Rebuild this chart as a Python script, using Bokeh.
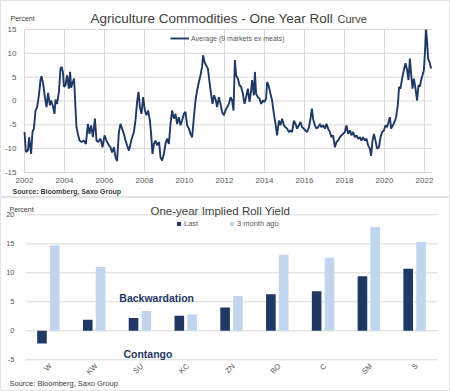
import math
from bokeh.plotting import figure
from bokeh.models import Legend, LegendItem, Range1d, ColumnDataSource
from bokeh.core.properties import value
from bokeh.layouts import column
from bokeh.transform import dodge
from bokeh.embed import file_html
from bokeh.resources import INLINE

# ---------------- data: top chart (one year roll curve, %) ----------------
years = [2002.00, 2002.07, 2002.17, 2002.23, 2002.33, 2002.40, 2002.47, 2002.55, 2002.63, 2002.72,
         2002.80, 2002.85, 2002.93, 2003.02, 2003.10, 2003.18, 2003.27, 2003.33, 2003.42, 2003.50,
         2003.55, 2003.63, 2003.72, 2003.80, 2003.85, 2003.92, 2003.97, 2004.05, 2004.13, 2004.22,
         2004.28, 2004.33, 2004.42, 2004.48, 2004.53, 2004.60, 2004.67, 2004.75, 2004.85, 2004.97,
         2005.07, 2005.17, 2005.25, 2005.33, 2005.42, 2005.52, 2005.60, 2005.68, 2005.80, 2005.90,
         2006.00, 2006.10, 2006.22, 2006.30, 2006.38, 2006.47, 2006.55, 2006.63, 2006.72, 2006.80,
         2006.88, 2006.97, 2007.05, 2007.13, 2007.22, 2007.30, 2007.38, 2007.47, 2007.55, 2007.63,
         2007.70, 2007.77, 2007.85, 2007.93, 2008.02, 2008.10, 2008.18, 2008.27, 2008.33, 2008.40,
         2008.47, 2008.55, 2008.63, 2008.73, 2008.80, 2008.88, 2008.97, 2009.05, 2009.13, 2009.22,
         2009.30, 2009.38, 2009.47, 2009.55, 2009.63, 2009.72, 2009.80, 2009.88, 2009.97, 2010.05,
         2010.13, 2010.22, 2010.30, 2010.38, 2010.47, 2010.55, 2010.63, 2010.72, 2010.80, 2010.88,
         2010.93, 2011.00, 2011.08, 2011.17, 2011.25, 2011.33, 2011.40, 2011.48, 2011.57, 2011.63,
         2011.72, 2011.80, 2011.88, 2011.97, 2012.05, 2012.13, 2012.22, 2012.30, 2012.38, 2012.45,
         2012.52, 2012.58, 2012.67, 2012.75, 2012.83, 2012.92, 2013.00, 2013.08, 2013.17, 2013.25,
         2013.33, 2013.38, 2013.47, 2013.52, 2013.58, 2013.67, 2013.75, 2013.83, 2013.92, 2014.00,
         2014.08, 2014.13, 2014.22, 2014.30, 2014.38, 2014.47, 2014.55, 2014.63, 2014.72, 2014.80,
         2014.88, 2014.97, 2015.05, 2015.13, 2015.22, 2015.30, 2015.38, 2015.47, 2015.55, 2015.63,
         2015.72, 2015.80, 2015.88, 2015.97, 2016.05, 2016.13, 2016.22, 2016.30, 2016.37, 2016.43,
         2016.52, 2016.60, 2016.68, 2016.77, 2016.85, 2016.93, 2017.02, 2017.10, 2017.18, 2017.27,
         2017.35, 2017.43, 2017.52, 2017.60, 2017.68, 2017.77, 2017.85, 2017.93, 2018.02, 2018.10,
         2018.18, 2018.27, 2018.35, 2018.43, 2018.52, 2018.60, 2018.68, 2018.77, 2018.85, 2018.93,
         2019.02, 2019.10, 2019.18, 2019.27, 2019.33, 2019.40, 2019.47, 2019.55, 2019.63, 2019.72,
         2019.80, 2019.88, 2019.97, 2020.05, 2020.13, 2020.22, 2020.27, 2020.33, 2020.42, 2020.50,
         2020.58, 2020.67, 2020.73, 2020.80, 2020.88, 2020.97, 2021.05, 2021.13, 2021.20, 2021.27,
         2021.33, 2021.40, 2021.47, 2021.55, 2021.63, 2021.70, 2021.77, 2021.83, 2021.90, 2021.97,
         2022.03, 2022.08, 2022.13, 2022.18, 2022.25, 2022.33]
avg_roll = [-6.5, -10.7, -10.4, -7.6, -11.1, -6.5, -5.8, -2.0, -1.3, 1.2,
            4.4, 5.2, 3.7, 0.8, -1.3, 1.7, -0.9, 0.1, -1.1, -2.7,
            0.3, -0.6, 1.9, 6.8, 7.2, 6.1, 3.0, 3.3, 5.4, 2.6,
            6.1, 2.8, 4.0, 4.7, 0.1, -5.5, -6.9, -8.3, -8.6, -8.3,
            -9.0, -4.8, -6.9, -5.1, -7.6, -3.7, -8.3, -8.6, -7.9, -9.7,
            -7.2, -8.3, -9.3, -9.7, -10.8, -9.7, -11.8, -12.6, -6.5, -4.8,
            -5.8, -6.9, -8.3, -9.3, -10.4, -9.0, -7.6, -6.5, -4.1, -0.2,
            1.9, -1.3, -2.7, 0.8, -2.0, -3.0, -2.0, -4.1, -6.9, -11.1,
            -9.0, -8.3, -9.3, -8.6, -11.8, -12.5, -11.1, -9.0, -7.9, -9.0,
            -4.8, -2.0, -3.7, -2.7, -4.8, -3.4, -5.1, -4.1, -2.7, -2.3,
            -5.1, -5.8, -6.9, -7.6, -3.4, 0.1, 2.2, 4.0, 5.4, 7.2,
            9.6, 8.2, 7.5, 6.8, 4.0, 1.5, -0.6, 1.2, 0.1, -1.3,
            0.8, -0.6, -2.3, -3.0, -2.0, -1.3, -0.6, 0.8, 0.1, -2.0,
            8.6, 5.4, 4.7, 3.3, 3.0, 1.5, -0.6, 0.8, 2.6, -0.2,
            2.2, 4.4, 1.2, 6.1, 1.5, 0.8, 0.5, -0.6, 0.1, -0.2,
            0.5, 4.0, 3.0, 1.5, 0.1, -2.7, -4.8, -7.2, -4.1, -5.1,
            -3.7, -5.1, -5.5, -5.8, -6.5, -6.2, -6.5, -4.1, -4.8, -5.8,
            -5.1, -4.4, -5.5, -5.8, -6.2, -6.5, -5.5, -3.7, -1.6, -3.7,
            -5.1, -5.8, -5.5, -4.8, -5.5, -5.1, -5.8, -4.8, -5.8, -6.5,
            -7.6, -7.2, -9.7, -8.6, -8.3, -7.6, -7.2, -6.9, -6.5, -5.1,
            -6.9, -6.2, -7.2, -6.5, -7.6, -7.2, -7.9, -7.6, -8.3, -7.6,
            -8.3, -7.9, -9.3, -10.0, -11.5, -8.3, -6.9, -8.3, -10.0, -9.7,
            -7.6, -6.5, -6.2, -5.1, -5.5, -4.1, -3.4, -5.8, -5.1, -4.4,
            -3.4, -0.6, 3.0, 2.6, 4.7, 6.5, 7.9, 6.5, 4.4, 8.9,
            5.8, 2.6, 4.7, 2.6, 0.1, 3.3, 3.0, 4.4, 5.4, 6.5,
            10.7, 15.0, 12.4, 8.9, 8.2, 6.8]
year_ticks = [2002, 2004, 2006, 2008, 2010, 2012, 2014, 2016, 2018, 2020, 2022]
top_pct_ticks = [-15, -10, -5, 0, 5, 10, 15]
top_x_limits = [2002, 2022.4]

# ---------------- data: bottom chart (implied roll yield, %) ----------------
markets = ["W", "KW", "SU", "KC", "ZN", "BO", "C", "SM", "S"]
last = [-2.2, 1.9, 2.2, 2.6, 4.0, 6.3, 6.8, 9.4, 10.7]
three_month_ago = [14.7, 11.0, 3.4, 2.8, 6.0, 13.1, 12.6, 17.9, 15.3]
bottom_pct_ticks = [-5, 0, 5, 10, 15, 20]

FONT = value("Liberation Sans")
NAVY = "#1f3864"
LIGHT = "#c2d5ee"
GRID = "#d9d9d9"
TICK = "#595959"
DARK = "#404040"
PANEL = "#e3e3e3"

# ---------------- top figure (frame spans whole canvas) ----------------
p1 = figure(width=450, height=197, x_range=Range1d(2000.8, 2023.3),
            y_range=Range1d(-20.245, 21.084), x_axis_type=None, y_axis_type=None,
            output_backend="svg", toolbar_location=None,
            min_border=0, min_border_left=0, min_border_right=0,
            min_border_top=0, min_border_bottom=0)
p1.grid.visible = False
p1.outline_line_color = PANEL
p1.background_fill_color = "white"

lo, hi = top_pct_ticks[0], top_pct_ticks[-1]
p1.segment(x0=year_ticks, x1=year_ticks, y0=[lo] * len(year_ticks), y1=[hi] * len(year_ticks),
           line_color=GRID, line_width=1)
p1.segment(x0=[top_x_limits[0]] * len(top_pct_ticks), x1=[top_x_limits[1]] * len(top_pct_ticks),
           y0=top_pct_ticks, y1=top_pct_ticks, line_color=GRID, line_width=1)
p1.text(x=[top_x_limits[0]] * len(top_pct_ticks), y=top_pct_ticks,
        text=[str(t) for t in top_pct_ticks], x_offset=-8,
        text_font=FONT, text_font_size="8px", text_color=TICK,
        text_align="right", text_baseline="middle")
p1.text(x=year_ticks, y=[lo] * len(year_ticks), text=[str(t) for t in year_ticks], y_offset=6,
        text_font=FONT, text_font_size="8px", text_color=TICK,
        text_align="center", text_baseline="top")

r = p1.line(years, avg_roll, line_color=NAVY, line_width=1.9)
leg1 = Legend(items=[LegendItem(label="Average (9 markets ex meats)", renderers=[r])],
              location=(170, 150), orientation="horizontal",
              background_fill_alpha=0, border_line_alpha=0,
              label_text_font="Liberation Sans", label_text_font_size="7px", label_text_color=TICK,
              glyph_width=19, glyph_height=8, label_height=18, label_standoff=2,
              padding=0, margin=0)
p1.add_layout(leg1)

p1.text(x=[2005.3], y=[17.25], text=["Agriculture Commodities - One Year Roll"],
        text_font=FONT, text_font_size="13.5px", text_color=DARK,
        text_align="left", text_baseline="alphabetic")
p1.text(x=[2017.65], y=[17.25], text=["Curve"],
        text_font=FONT, text_font_size="11px", text_color=DARK,
        text_align="left", text_baseline="alphabetic")
p1.text(x=[2001.3], y=[17.4], text=["Percent"],
        text_font=FONT, text_font_size="7px", text_color=DARK,
        text_align="left", text_baseline="middle")
p1.text(x=[2001.4], y=[-18.9], text=["Source: Bloomberg, Saxo Group"],
        text_font=FONT, text_font_size="7px", text_color=DARK, text_font_style="bold",
        text_align="left", text_baseline="middle")

# ---------------- bottom figure (frame spans whole canvas) ----------------
xpos = [i + 0.5 for i in range(len(markets))]
src = ColumnDataSource(dict(x=xpos, market=markets, last=last, ago=three_month_ago))
p2 = figure(width=450, height=194, x_range=Range1d(-0.546, 9.284),
            y_range=Range1d(-10.466, 22.983), x_axis_type=None, y_axis_type=None,
            output_backend="svg", toolbar_location=None,
            min_border=0, min_border_left=0, min_border_right=0,
            min_border_top=0, min_border_bottom=0)
p2.grid.visible = False
p2.outline_line_color = PANEL

n_cat = len(markets)
p2.segment(x0=[0] * len(bottom_pct_ticks), x1=[n_cat] * len(bottom_pct_ticks),
           y0=bottom_pct_ticks, y1=bottom_pct_ticks, line_color=GRID, line_width=1)
p2.text(x=[0] * len(bottom_pct_ticks), y=bottom_pct_ticks,
        text=[str(t) for t in bottom_pct_ticks], x_offset=-11,
        text_font=FONT, text_font_size="7.5px", text_color=TICK,
        text_align="right", text_baseline="middle")
p2.text(x="x", y=bottom_pct_ticks[0], text="market", source=src, y_offset=5, x_offset=2,
        angle=math.pi / 4, text_font=FONT, text_font_size="7.5px", text_color=TICK,
        text_align="right", text_baseline="middle")

b1 = p2.vbar(x=dodge("x", -0.14), top="last", width=0.21,
             source=src, fill_color=NAVY, line_color=None)
b2 = p2.vbar(x=dodge("x", 0.14), top="ago", width=0.21,
             source=src, fill_color=LIGHT, line_color=None)
leg2 = Legend(items=[LegendItem(label="Last", renderers=[b1]),
                     LegendItem(label="3 month ago", renderers=[b2])],
              location=(176, 162), orientation="horizontal",
              background_fill_alpha=0, border_line_alpha=0,
              label_text_font="Liberation Sans", label_text_font_size="7.5px",
              label_text_color=TICK,
              glyph_width=5, glyph_height=5, label_height=12, label_standoff=3,
              spacing=25, padding=0, margin=0)
p2.add_layout(leg2)

p2.text(x=[4.29], y=[20.6], text=["One-year  Implied Roll Yield"],
        text_font=FONT, text_font_size="11.5px", text_color=DARK,
        text_align="center", text_baseline="alphabetic")
p2.text(x=[-0.35], y=[20.9], text=["Percent"],
        text_font=FONT, text_font_size="7px", text_color=DARK,
        text_align="left", text_baseline="alphabetic")
p2.text(x=[2.05], y=[5.57], text=["Backwardation"],
        text_font=FONT, text_font_size="10.5px", text_color=NAVY, text_font_style="bold",
        text_align="left", text_baseline="middle")
p2.text(x=[2.14], y=[-4.0], text=["Contango"],
        text_font=FONT, text_font_size="10.5px", text_color=NAVY, text_font_style="bold",
        text_align="left", text_baseline="middle")
p2.text(x=[-0.35], y=[-9.1], text=["Source: Bloomberg, Saxo Group"],
        text_font=FONT, text_font_size="7.5px", text_color=DARK,
        text_align="left", text_baseline="middle")

layout = column(p1, p2, spacing=0)
open("out.html", "w").write(file_html(layout, INLINE))
